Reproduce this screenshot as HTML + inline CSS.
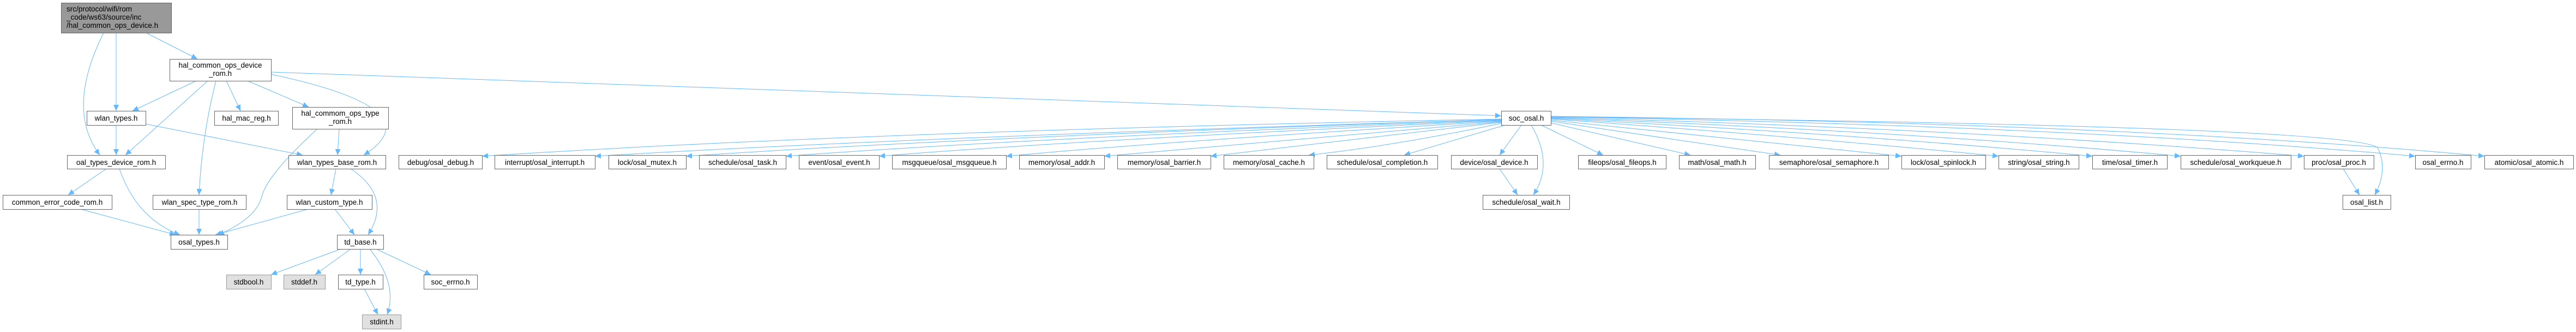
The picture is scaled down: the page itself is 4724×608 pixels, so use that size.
<!DOCTYPE html>
<html><head><meta charset="utf-8"><style>
html,body{margin:0;padding:0;background:#fff;}
svg{display:block;}
text{font-family:"Liberation Sans","DejaVu Sans",sans-serif;font-size:13.5px;fill:#000;}
.b rect{fill:#fff;stroke:#666;stroke-width:1;}
.e{fill:none;stroke:#63b8ff;stroke-width:1;marker-end:url(#a);}
</style></head><body>
<svg width="4724" height="608" viewBox="0 0 4724 608" xmlns="http://www.w3.org/2000/svg">
<defs><marker id="a" markerUnits="userSpaceOnUse" markerWidth="12" markerHeight="10" refX="11" refY="5" orient="auto"><path d="M0,0 L11,5 L0,10 z" fill="#63b8ff"/></marker></defs>
<g>
<path class="e" d="M190,60 Q120,200 183,284"/>
<path class="e" d="M213,60 L213,203"/>
<path class="e" d="M268,60 L362,108"/>
<path class="e" d="M360,148 L243,203"/>
<path class="e" d="M381,148 L230,284"/>
<path class="e" d="M396,148 Q370,250 365,357"/>
<path class="e" d="M415,148 L441,203"/>
<path class="e" d="M454,148 L566,196"/>
<path class="e" d="M497,136 Q800,200 667,284"/>
<path class="e" d="M497,132 L2753,212"/>
<path class="e" d="M213,229 L213,284"/>
<path class="e" d="M267,227 L555,284"/>
<path class="e" d="M622,236 L619,284"/>
<path class="e" d="M582,236 Q490,320 480,360 Q470,400 400,430"/>
<path class="e" d="M195,309 L125,357"/>
<path class="e" d="M219,309 Q250,400 330,430"/>
<path class="e" d="M148,383 L322,430"/>
<path class="e" d="M365,383 L365,430"/>
<path class="e" d="M565,383 L395,430"/>
<path class="e" d="M614,383 L650,430"/>
<path class="e" d="M616,309 L607,357"/>
<path class="e" d="M643,309 Q720,360 675,430"/>
<path class="e" d="M625,456 L497,503"/>
<path class="e" d="M643,456 L578,503"/>
<path class="e" d="M661,456 L661,503"/>
<path class="e" d="M678,456 Q730,520 710,576"/>
<path class="e" d="M690,456 L790,503"/>
<path class="e" d="M668,529 L693,576"/>
<path class="e" d="M2753,218 Q1600,240 884,286"/>
<path class="e" d="M2753,219 Q1700,250 1091,286"/>
<path class="e" d="M2753,219 Q1800,250 1258,286"/>
<path class="e" d="M2753,220 Q1900,252 1441,286"/>
<path class="e" d="M2753,221 Q2000,255 1612,286"/>
<path class="e" d="M2753,222 Q2150,258 1845,286"/>
<path class="e" d="M2753,223 Q2300,262 2025,286"/>
<path class="e" d="M2753,224 Q2400,265 2220,286"/>
<path class="e" d="M2753,226 Q2550,268 2400,284"/>
<path class="e" d="M2760,229 L2575,284"/>
<path class="e" d="M2790,229 L2750,284"/>
<path class="e" d="M2808,229 Q2850,300 2812,357"/>
<path class="e" d="M2750,309 L2783,357"/>
<path class="e" d="M2826,229 L2940,284"/>
<path class="e" d="M2844,225 L3100,284"/>
<path class="e" d="M2844,222 L3265,284"/>
<path class="e" d="M2844,220 L3487,286"/>
<path class="e" d="M2844,218 Q3300,250 3665,286"/>
<path class="e" d="M2844,217 Q3400,245 3837,286"/>
<path class="e" d="M2844,216 Q3500,240 3999,286"/>
<path class="e" d="M2844,215 Q3600,235 4225,286"/>
<path class="e" d="M2844,214 Q3800,230 4429,286"/>
<path class="e" d="M2844,213 Q3900,225 4556,286"/>
<path class="e" d="M2844,214 Q4300,230 4360,270 Q4380,310 4355,357"/>
<path class="e" d="M4297,309 L4327,357"/>
</g>
<g class="b">
<rect x="112.5" y="5.5" width="202" height="55" style="fill:#999"/>
<text x="122" y="21">src/protocol/wifi/rom</text>
<text x="122" y="36">_code/ws63/source/inc</text>
<text x="122" y="51">/hal_common_ops_device.h</text>
<rect x="311.5" y="108.5" width="186" height="40"/>
<text x="404" y="124" text-anchor="middle">hal_common_ops_device</text>
<text x="404" y="139" text-anchor="middle">_rom.h</text>
<rect x="536.5" y="196.5" width="176" height="40"/>
<text x="624" y="212" text-anchor="middle">hal_commom_ops_type</text>
<text x="624" y="227" text-anchor="middle">_rom.h</text>
</g>
<g class="b" text-anchor="middle">
<rect x="159.5" y="203.5" width="108" height="26"/><text x="213" y="221" text-anchor="middle">wlan_types.h</text>
<rect x="393.5" y="203.5" width="117" height="26"/><text x="452" y="221" text-anchor="middle">hal_mac_reg.h</text>
<rect x="2753.5" y="203.5" width="91" height="26"/><text x="2799" y="221" text-anchor="middle">soc_osal.h</text>
<rect x="123.5" y="284.5" width="180" height="25"/><text x="213" y="302" text-anchor="middle">oal_types_device_rom.h</text>
<rect x="529.5" y="284.5" width="178" height="25"/><text x="618" y="302" text-anchor="middle">wlan_types_base_rom.h</text>
<rect x="731.5" y="284.5" width="153" height="25"/><text x="808" y="302" text-anchor="middle">debug/osal_debug.h</text>
<rect x="907.5" y="284.5" width="184" height="25"/><text x="999" y="302" text-anchor="middle">interrupt/osal_interrupt.h</text>
<rect x="1116.5" y="284.5" width="142" height="25"/><text x="1187" y="302" text-anchor="middle">lock/osal_mutex.h</text>
<rect x="1282.5" y="284.5" width="159" height="25"/><text x="1362" y="302" text-anchor="middle">schedule/osal_task.h</text>
<rect x="1465.5" y="284.5" width="147" height="25"/><text x="1539" y="302" text-anchor="middle">event/osal_event.h</text>
<rect x="1636.5" y="284.5" width="209" height="25"/><text x="1741" y="302" text-anchor="middle">msgqueue/osal_msgqueue.h</text>
<rect x="1869.5" y="284.5" width="156" height="25"/><text x="1947" y="302" text-anchor="middle">memory/osal_addr.h</text>
<rect x="2049.5" y="284.5" width="171" height="25"/><text x="2135" y="302" text-anchor="middle">memory/osal_barrier.h</text>
<rect x="2244.5" y="284.5" width="165" height="25"/><text x="2327" y="302" text-anchor="middle">memory/osal_cache.h</text>
<rect x="2433.5" y="284.5" width="203" height="25"/><text x="2535" y="302" text-anchor="middle">schedule/osal_completion.h</text>
<rect x="2661.5" y="284.5" width="158" height="25"/><text x="2740" y="302" text-anchor="middle">device/osal_device.h</text>
<rect x="2894.5" y="284.5" width="161" height="25"/><text x="2975" y="302" text-anchor="middle">fileops/osal_fileops.h</text>
<rect x="3079.5" y="284.5" width="140" height="25"/><text x="3149" y="302" text-anchor="middle">math/osal_math.h</text>
<rect x="3244.5" y="284.5" width="219" height="25"/><text x="3354" y="302" text-anchor="middle">semaphore/osal_semaphore.h</text>
<rect x="3487.5" y="284.5" width="154" height="25"/><text x="3564" y="302" text-anchor="middle">lock/osal_spinlock.h</text>
<rect x="3665.5" y="284.5" width="147" height="25"/><text x="3739" y="302" text-anchor="middle">string/osal_string.h</text>
<rect x="3837.5" y="284.5" width="137" height="25"/><text x="3906" y="302" text-anchor="middle">time/osal_timer.h</text>
<rect x="3999.5" y="284.5" width="202" height="25"/><text x="4100" y="302" text-anchor="middle">schedule/osal_workqueue.h</text>
<rect x="4225.5" y="284.5" width="128" height="25"/><text x="4289" y="302" text-anchor="middle">proc/osal_proc.h</text>
<rect x="4429.5" y="284.5" width="102" height="25"/><text x="4480" y="302" text-anchor="middle">osal_errno.h</text>
<rect x="4556.5" y="284.5" width="163" height="25"/><text x="4638" y="302" text-anchor="middle">atomic/osal_atomic.h</text>
<rect x="5.5" y="357.5" width="200" height="26"/><text x="105" y="375" text-anchor="middle">common_error_code_rom.h</text>
<rect x="280.5" y="357.5" width="171" height="26"/><text x="366" y="375" text-anchor="middle">wlan_spec_type_rom.h</text>
<rect x="526.5" y="357.5" width="156" height="26"/><text x="604" y="375" text-anchor="middle">wlan_custom_type.h</text>
<rect x="2719.5" y="357.5" width="159" height="26"/><text x="2799" y="375" text-anchor="middle">schedule/osal_wait.h</text>
<rect x="4296.5" y="357.5" width="88" height="26"/><text x="4340" y="375" text-anchor="middle">osal_list.h</text>
<rect x="313.5" y="430.5" width="104" height="26"/><text x="365" y="448" text-anchor="middle">osal_types.h</text>
<rect x="618.5" y="430.5" width="85" height="26"/><text x="661" y="448" text-anchor="middle">td_base.h</text>
<rect x="415.5" y="503.5" width="82" height="26" style="fill:#e0e0e0;stroke:#999"/><text x="456" y="521" text-anchor="middle">stdbool.h</text>
<rect x="520.5" y="503.5" width="76" height="26" style="fill:#e0e0e0;stroke:#999"/><text x="558" y="521" text-anchor="middle">stddef.h</text>
<rect x="620.5" y="503.5" width="82" height="26"/><text x="661" y="521" text-anchor="middle">td_type.h</text>
<rect x="777.5" y="503.5" width="98" height="26"/><text x="826" y="521" text-anchor="middle">soc_errno.h</text>
<rect x="664.5" y="576.5" width="71" height="26" style="fill:#e0e0e0;stroke:#999"/><text x="700" y="594" text-anchor="middle">stdint.h</text>
</g>
</svg>
</body></html>
